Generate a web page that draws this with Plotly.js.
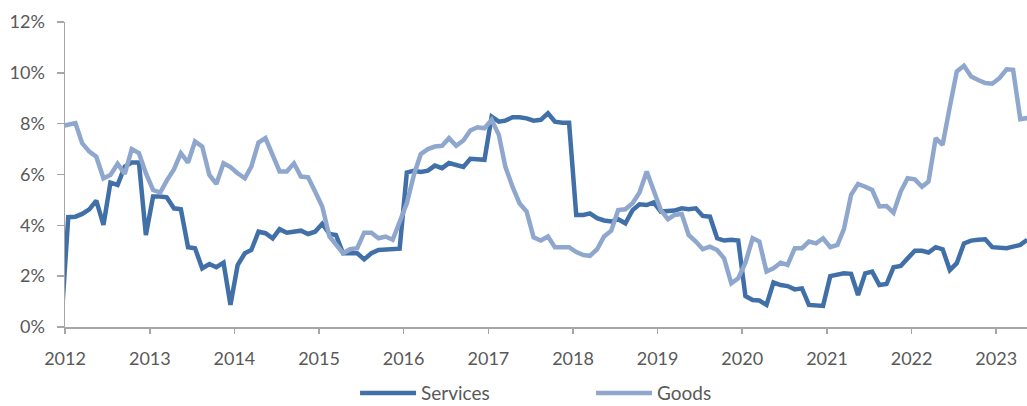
<!DOCTYPE html>
<html>
<head>
<meta charset="utf-8">
<script src="https://cdn.plot.ly/plotly-3.0.1.min.js"></script>
<style>
  html, body { margin: 0; padding: 0; background: #ffffff; }
  #chart { width: 1027px; height: 406px; }
</style>
</head>
<body>
<div id="chart"></div>
<script>
// First month of data (Dec 2011 is a clipped lead-in point before the axis start)
const firstMonth = { year: 2011, month: 12 };

// Year-on-year inflation, % (Dec 2011 ... May 2023, monthly)
const services = [
  0.0,
  4.32, 4.34, 4.45, 4.63, 4.97, 4.02, 5.68, 5.59, 6.31, 6.47, 6.47, 3.62,
  5.13, 5.13, 5.10, 4.67, 4.63, 3.14, 3.10, 2.31, 2.48, 2.35, 2.53, 0.87,
  2.44, 2.90, 3.03, 3.75, 3.69, 3.49, 3.85, 3.71, 3.75, 3.79, 3.66, 3.75,
  4.06, 3.66, 3.62, 2.90, 2.90, 2.90, 2.66, 2.90, 3.03, 3.06, 3.06, 3.08,
  6.08, 6.15, 6.10, 6.15, 6.35, 6.25, 6.45, 6.38, 6.30, 6.62, 6.62, 6.58,
  8.28, 8.08, 8.12, 8.25, 8.25, 8.21, 8.12, 8.15, 8.41, 8.08, 8.04, 8.04,
  4.41, 4.41, 4.47, 4.28, 4.19, 4.15, 4.24, 4.08, 4.60, 4.83, 4.80, 4.90,
  4.54, 4.58, 4.58, 4.67, 4.63, 4.67, 4.37, 4.34, 3.49, 3.40, 3.43, 3.40,
  1.22, 1.06, 1.04, 0.87, 1.75, 1.65, 1.61, 1.48, 1.52, 0.87, 0.83, 0.83,
  2.00, 2.05, 2.11, 2.09, 1.26, 2.11, 2.18, 1.65, 1.69, 2.35, 2.40, 2.70,
  3.00, 3.00, 2.93, 3.14, 3.06, 2.24, 2.51, 3.29, 3.40, 3.43, 3.45, 3.14,
  3.10, 3.10, 3.16, 3.23, 3.43
];

const goods = [
  7.90,
  7.95, 8.02, 7.23, 6.90, 6.70, 5.85, 5.98, 6.42, 6.02, 7.00, 6.84, 6.05,
  5.39, 5.29, 5.76, 6.20, 6.84, 6.47, 7.30, 7.10, 5.98, 5.63, 6.44, 6.29,
  6.05, 5.85, 6.31, 7.26, 7.43, 6.81, 6.12, 6.12, 6.44, 5.92, 5.89, 5.33,
  4.74, 3.56, 3.23, 2.90, 3.06, 3.10, 3.71, 3.71, 3.49, 3.56, 3.43, 4.20,
  4.87, 6.00, 6.80, 7.00, 7.10, 7.13, 7.43, 7.13, 7.34, 7.73, 7.86, 7.82,
  8.15, 7.56, 6.31, 5.52, 4.87, 4.54, 3.53, 3.40, 3.56, 3.14, 3.14, 3.14,
  2.95, 2.83, 2.80, 3.06, 3.56, 3.79, 4.60, 4.63, 4.87, 5.29, 6.12, 5.33,
  4.60, 4.24, 4.41, 4.45, 3.62, 3.36, 3.06, 3.16, 3.03, 2.70, 1.72, 1.92,
  2.53, 3.49, 3.36, 2.18, 2.31, 2.53, 2.44, 3.10, 3.10, 3.36, 3.29, 3.49,
  3.14, 3.23, 3.85, 5.20, 5.63, 5.52, 5.39, 4.74, 4.76, 4.50, 5.33, 5.85,
  5.81, 5.52, 5.72, 7.43, 7.17, 8.67, 10.05, 10.28, 9.86, 9.72, 9.60, 9.57,
  9.79, 10.14, 10.12, 8.18, 8.22
];

const seriesNames = ['Services', 'Goods'];
const yTickValues = [0, 2, 4, 6, 8, 10, 12];
const yTickLabels = ['0%', '2%', '4%', '6%', '8%', '10%', '12%'];

// Monthly dates, mid-month
const months = [];
for (let i = 0; i < services.length; i++) {
  const total = firstMonth.year * 12 + (firstMonth.month - 1) + i;
  const y = Math.floor(total / 12);
  const m = (total % 12) + 1;
  months.push(y + '-' + String(m).padStart(2, '0') + '-15');
}

const axisGrey = '#A6A6A6';
const textGrey = '#595959';
const fontFamily = 'Lato, "Open Sans", "Liberation Sans", sans-serif';

const traces = [
  {
    x: months, y: services, name: seriesNames[0],
    type: 'scatter', mode: 'lines',
    line: { color: '#4170A8', width: 4.5 }
  },
  {
    x: months, y: goods, name: seriesNames[1],
    type: 'scatter', mode: 'lines',
    line: { color: '#8FA7CD', width: 4.5 }
  }
];

const layout = {
  width: 1027, height: 406,
  margin: { l: 65, r: 0, t: 22, b: 79, autoexpand: false },
  paper_bgcolor: '#ffffff', plot_bgcolor: '#ffffff',
  font: { family: fontFamily, size: 18, color: textGrey },
  showlegend: true,
  legend: {
    orientation: 'h', x: 0.3015, xanchor: 'left', y: -0.279, yanchor: 'bottom',
    font: { family: fontFamily, size: 19, color: textGrey },
    itemwidth: 56, entrywidth: 165, entrywidthmode: 'pixels',
    bgcolor: 'rgba(0,0,0,0)'
  },
  xaxis: {
    type: 'date',
    range: ['2012-01-01', '2023-05-14'],
    tick0: '2012-01-01', dtick: 'M12', tickformat: '%Y',
    showgrid: false, zeroline: false,
    showline: true, linecolor: axisGrey, linewidth: 1.5,
    ticks: 'outside', ticklen: 5, tickwidth: 1.5, tickcolor: axisGrey,
    ticklabelstandoff: 10,
    tickfont: { family: fontFamily, size: 18, color: textGrey }
  },
  yaxis: {
    range: [0, 12],
    tickvals: yTickValues, ticktext: yTickLabels,
    showgrid: false, zeroline: false,
    showline: true, linecolor: axisGrey, linewidth: 1.5,
    ticks: 'outside', ticklen: 7, tickwidth: 1.5, tickcolor: axisGrey,
    ticklabelstandoff: 8,
    tickfont: { family: fontFamily, size: 18, color: textGrey }
  }
};

Plotly.newPlot('chart', traces, layout, { displayModeBar: false, staticPlot: true });
</script>
</body>
</html>
